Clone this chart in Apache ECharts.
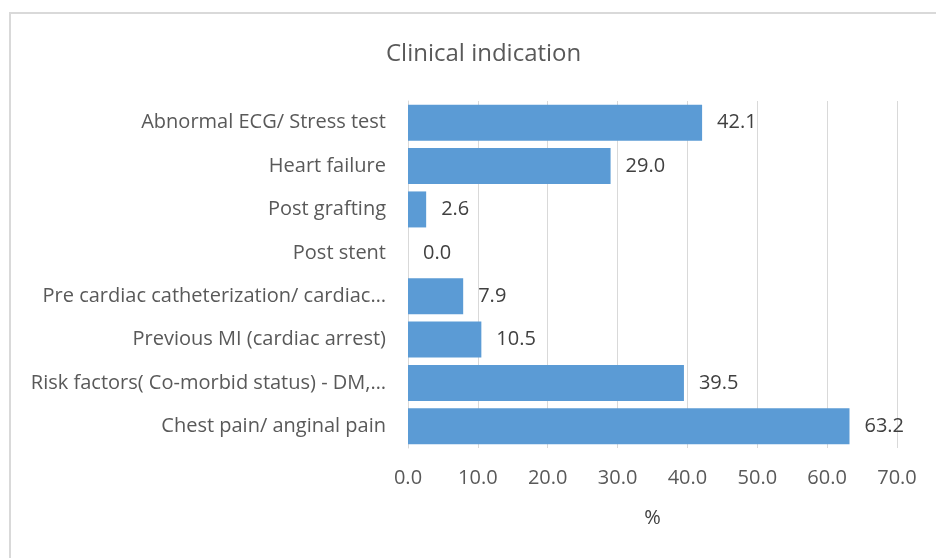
<!DOCTYPE html>
<html>
<head>
<meta charset="utf-8">
<script src="https://cdn.jsdelivr.net/npm/echarts@6/dist/echarts.min.js"></script>
<style>
html,body{margin:0;padding:0;background:#fff;}
#main{width:936px;height:558px;}
#frame{position:absolute;left:9px;top:12px;width:940px;height:560px;border:2px solid #d9d9d9;box-sizing:border-box;pointer-events:none;}
</style>
</head>
<body>
<div id="main"></div>
<div id="frame"></div>
<script>
const categories = [
  "Abnormal ECG/ Stress test",
  "Heart failure",
  "Post grafting",
  "Post stent",
  "Pre cardiac catheterization/ cardiac…",
  "Previous MI (cardiac arrest)",
  "Risk factors( Co-morbid status) - DM,…",
  "Chest pain/ anginal pain"
];
const values = [42.1, 29.0, 2.6, 0.0, 7.9, 10.5, 39.5, 63.2];
const xTicks = { min: 0, max: 70, interval: 10 };
const titleText = "Clinical indication";
const axisName = "%";

const FONT = "Open Sans";
const chart = echarts.init(document.getElementById('main'));
chart.setOption({
  animation: false,
  backgroundColor: '#fff',
  title: {
    text: titleText, left: 381, top: 37,
    textStyle: { fontFamily: FONT, fontSize: 24, fontWeight: 'normal', color: '#595959' }
  },
  grid: { left: 408, right: 39, top: 101, bottom: 110, containLabel: false },
  xAxis: {
    type: 'value', min: xTicks.min, max: xTicks.max, interval: xTicks.interval,
    name: axisName, nameLocation: 'middle', nameGap: 60,
    nameTextStyle: { fontFamily: FONT, fontSize: 20, color: '#404040' },
    axisLine: { show: false }, axisTick: { show: false },
    axisLabel: { margin: 20, fontFamily: FONT, fontSize: 20, color: '#595959',
      formatter: v => v.toFixed(1) },
    splitLine: { show: true, lineStyle: { color: '#d9d9d9', width: 1 } }
  },
  yAxis: {
    type: 'category', data: categories, inverse: true,
    axisLine: { show: true, lineStyle: { color: '#d9d9d9', width: 1 } },
    axisTick: { show: false },
    axisLabel: { margin: 22, fontFamily: FONT, fontSize: 20, color: '#595959' }
  },
  series: [{
    type: 'bar', data: values, barCategoryGap: '17%',
    itemStyle: { color: '#5b9bd5' },
    label: { show: true, position: 'right', distance: 15, fontFamily: FONT, fontSize: 20,
      color: '#404040', formatter: p => p.value.toFixed(1) }
  }]
});
</script>
</body>
</html>
